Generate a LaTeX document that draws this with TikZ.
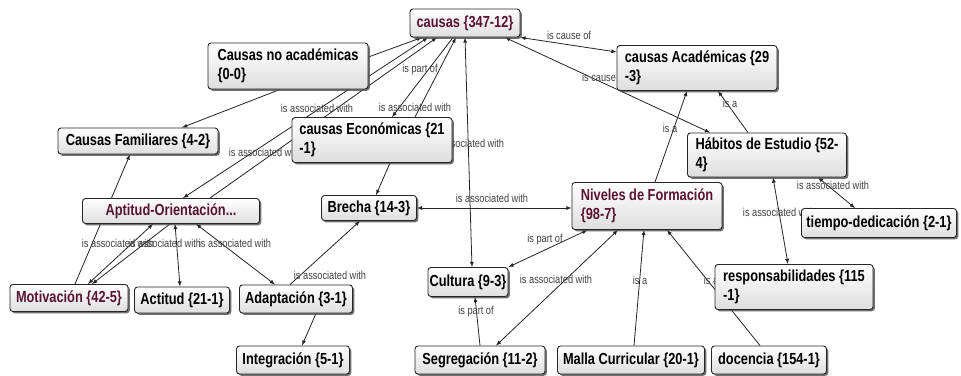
\documentclass[tikz,border=0pt]{standalone}
\usepackage{fontspec}
\setmainfont{Liberation Sans}[FakeStretch=0.8]
\usetikzlibrary{shadows}
\definecolor{conceptred}{RGB}{90,20,50}
\definecolor{linkgray}{RGB}{35,35,35}
\pgfdeclarelayer{bg}
\pgfsetlayers{bg,main}
\tikzset{
  concept/.style={draw=black!85, line width=0.9pt, rounded corners=3pt,
    top color=white, bottom color=black!13,
    drop shadow={shadow xshift=1.8pt, shadow yshift=-1.8pt, fill=black!70, opacity=0.8},
    font=\fontsize{16}{19}\selectfont\bfseries, align=left, inner sep=0pt},
  sz/.style 2 args={minimum width=#1pt, minimum height=#2pt},
  link/.style={font=\fontsize{11.5}{13}\selectfont, text=black!75, inner sep=0pt},
  rel/.style={draw=linkgray, line width=0.8pt},
}
\begin{document}
\begin{tikzpicture}[>=latex, x=1pt, y=-1pt]
    \useasboundingbox (0,0) rectangle (961,375);
    % concepts
    \node[concept, sz={110}{28}, text=conceptred] (caus) at (465,23) {causas \{347-12\}};
    \node[concept, sz={160}{46}] (noac) at (288,66) {Causas no académicas\\\{0-0\}};
    \node[concept, sz={160}{45}] (acad) at (697,68) {causas Académicas \{29\\-3\}};
    \node[concept, sz={160}{26}] (fam) at (138,141) {Causas Familiares \{4-2\}};
    \node[concept, sz={160}{45}] (econ) at (372,140) {causas Económicas \{21\\-1\}};
    \node[concept, sz={159}{44}] (habi) at (767,155) {Hábitos de Estudio \{52-\\4\}};
    \node[concept, sz={177}{25}, text=conceptred] (apti) at (171,211) {Aptitud-Orientación...};
    \node[concept, sz={95}{25}] (brec) at (369,208) {Brecha \{14-3\}};
    \node[concept, sz={150}{47}, text=conceptred] (nive) at (647,206) {Niveles de Formación\\\{98-7\}};
    \node[concept, sz={155}{29}] (tiem) at (879,223) {tiempo-dedicación \{2-1\}};
    \node[concept, sz={118}{27}, text=conceptred] (moti) at (69,298) {Motivación \{42-5\}};
    \node[concept, sz={95}{26}] (acti) at (182,300) {Actitud \{21-1\}};
    \node[concept, sz={113}{28}] (adap) at (296,299) {Adaptación \{3-1\}};
    \node[concept, sz={80}{29}] (cult) at (468,282) {Cultura \{9-3\}};
    \node[concept, sz={158}{45}] (resp) at (794,287) {responsabilidades \{115\\-1\}};
    \node[concept, sz={113}{28}] (inte) at (293,360) {Integración \{5-1\}};
    \node[concept, sz={130}{28}] (segr) at (480,360) {Segregación \{11-2\}};
    \node[concept, sz={147}{28}] (mall) at (631,360) {Malla Curricular \{20-1\}};
    \node[concept, sz={115}{28}] (doce) at (769,360) {docencia \{154-1\}};
    \begin{pgfonlayer}{bg}
    % links
    \draw[rel,->] ([yshift=9pt]noac.east) -- ([xshift=-43pt]caus.south);
    \draw[rel,->] ([xshift=-8pt]noac.south) -- ([xshift=44pt]fam.north);
    \draw[rel,<->] (caus.south east) -- ([yshift=16pt]acad.west);
    \draw[rel,<->] ([xshift=-57pt]habi.north) -- ([xshift=40pt]caus.south);
    \draw[rel,->] ([xshift=-19pt]habi.north) -- ([xshift=21pt]acad.south);
    \draw[rel,->] ([xshift=8pt]nive.north) -- ([xshift=-10pt]acad.south);
    \draw[rel,->] ([xshift=6pt]moti.north) -- ([xshift=-8pt]fam.south);
    \draw[rel,<->] ([xshift=-37pt]caus.south) -- ([xshift=12pt]apti.north);
    \draw[rel,->] ([xshift=39pt]apti.north) -- ([xshift=-28pt]caus.south);
    \draw[rel,->] ([xshift=-12pt]caus.south) -- ([xshift=20pt]econ.north);
    \draw[rel,->] ([xshift=43pt]econ.north) -- ([xshift=-9pt]caus.south);
    \draw[rel,<->] (caus.south) -- ([xshift=4pt]cult.north);
    \draw[rel,->] ([xshift=18pt]econ.south) -- ([xshift=7pt]brec.north);
    \draw[rel,<->] (brec.east) -- (brec.east -| nive.west);
    \draw[rel,<->] ([xshift=16pt]nive.south west) -- (cult.north east);
    \draw[rel,<->] ([xshift=16pt]segr.north) -- ([xshift=-29pt]nive.south);
    \draw[rel,->] (segr.north) -- ([xshift=7pt]cult.south);
    \draw[rel,->] ([xshift=3pt]mall.north) -- ([xshift=-3pt]nive.south);
    \draw[rel,->] ([xshift=-9pt]doce.north) -- ([xshift=20pt]nive.south);
    \draw[rel,<->] ([xshift=6pt]habi.south) -- ([xshift=-6pt]resp.north);
    \draw[rel,<->] ([xshift=51pt]habi.south) -- ([xshift=-24pt]tiem.north);
    \draw[rel,<->] ([xshift=19pt]moti.north) -- ([xshift=-18pt]apti.south);
    \draw[rel,->] ([xshift=-1pt]apti.south) -- ([xshift=23pt]moti.north);
    \draw[rel,<->] ([xshift=4pt]apti.south) -- ([xshift=-2pt]acti.north);
    \draw[rel,<->] ([xshift=25pt]apti.south) -- ([xshift=-21pt]adap.north);
    \draw[rel,->] ([xshift=-6pt]adap.north) -- ([xshift=-9pt]brec.south);
    \draw[rel,->] ([xshift=20pt]adap.south) -- ([xshift=9pt]inte.north);
    % link labels
    \node[link] (l1) at (569,35) {is cause of};
    \node[link] (l2) at (599,77) {is cause};
    \node[link] (l3) at (730,103) {is a};
    \node[link] (l4) at (670,128) {is a};
    \node[link] (l5) at (317,108) {is associated with};
    \node[link] (l6) at (265,152) {is associated with};
    \node[link] (l7) at (420,70) {is part of};
    \node[link] (l8) at (415,107) {is associated with};
    \node[link] (l9) at (468,143) {is associated with};
    \node[link] (l10) at (492,198) {is associated with};
    \node[link] (l11) at (545,240) {is part of};
    \node[link] (l12) at (556,279) {is associated with};
    \node[link] (l13) at (476,312) {is part of};
    \node[link] (l14) at (640,280) {is a};
    \node[link] (l15) at (711,280) {is a};
    \node[link] (l16) at (779,212) {is associated with};
    \node[link] (l17) at (833,185) {is associated with};
    \node[link] (l18) at (118,243) {is associated with};
    \node[link] (l19) at (165,243) {is associated with};
    \node[link] (l20) at (235,243) {is associated with};
    \node[link] (l21) at (330,275) {is associated with};
    \end{pgfonlayer}
\end{tikzpicture}
\end{document}
